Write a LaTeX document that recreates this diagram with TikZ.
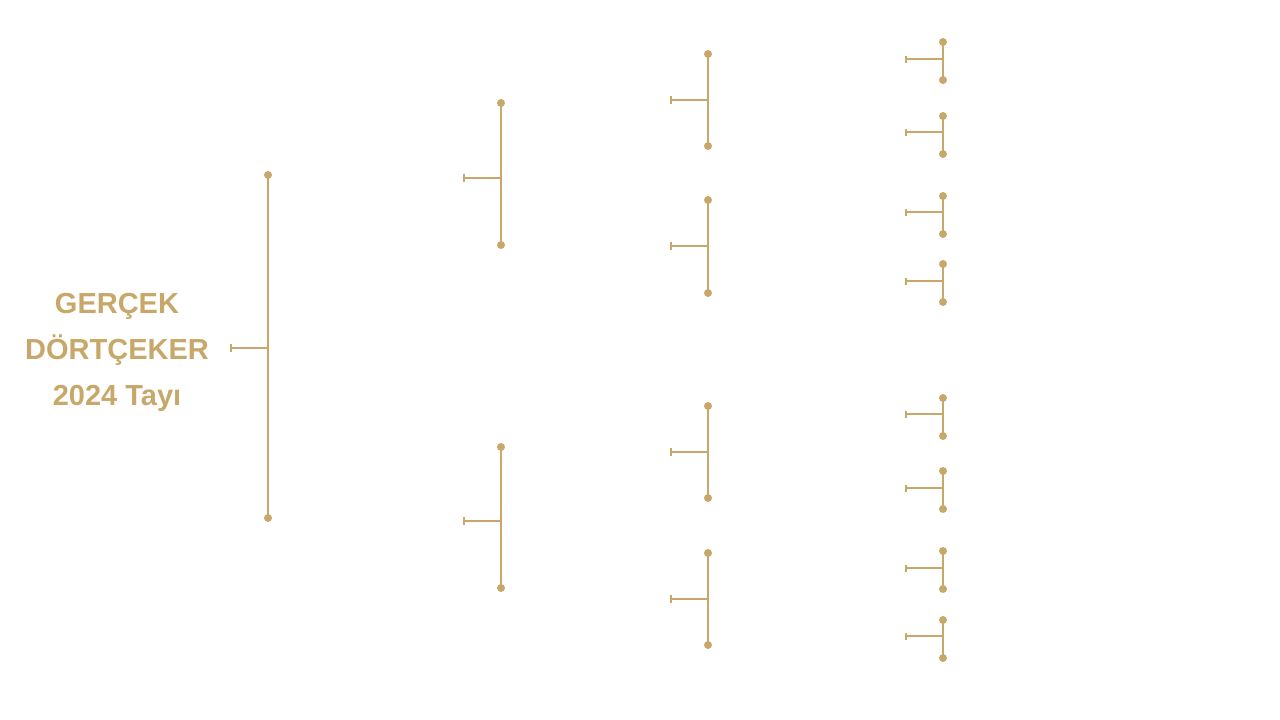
\documentclass[tikz,border=0pt]{standalone}
\usepackage{fontspec}
\setmainfont{Liberation Sans}
\usetikzlibrary{arrows.meta}
\definecolor{gold}{RGB}{200,168,106}
\tikzset{
  dot/.style={circle,fill=gold,draw=none,minimum size=8pt,inner sep=0pt},
  vline/.style={draw=gold,line width=2pt},
  stub/.style={draw=gold,line width=2pt,{Bar[width=8pt,line width=1.8pt]}-},
  stubsmall/.style={draw=gold,line width=2pt,{Bar[width=7pt,line width=1.8pt]}-},
  title/.style={text=gold,font=\bfseries\fontsize{29}{46}\selectfont,align=center}
}
\begin{document}
\begin{tikzpicture}[x=1pt,y=-1pt]
\useasboundingbox (0,0) rectangle (1280,720);
\node[title] (name) at (117,352) {GERÇEK\\DÖRTÇEKER\\2024 Tayı};
% generation brackets: name, x, ytop, ybot, ystub, xstub, style
\foreach \n/\x/\yt/\yb/\ys/\xs/\st in {
  a/268/175/518/348/230/stub,
  b1/501/103/245/178/463/stub,
  b2/501/447/588/521/463/stub,
  c1/708/54/146/100/670/stub,
  c2/708/200/293/246/670/stub,
  c3/708/406/498/452/670/stub,
  c4/708/553/645/599/670/stub,
  d1/943/42/80/59/905/stubsmall,
  d2/943/116/154/132/905/stubsmall,
  d3/943/196/234/212/905/stubsmall,
  d4/943/264/302/281/905/stubsmall,
  d5/943/398/436/414/905/stubsmall,
  d6/943/471/509/488/905/stubsmall,
  d7/943/551/589/568/905/stubsmall,
  d8/943/620/658/636/905/stubsmall}{
  \node[dot] (\n t) at (\x,\yt) {};
  \node[dot] (\n u) at (\x,\yb) {};
  \coordinate (\n j) at (\x,\ys);
  \coordinate (\n s) at (\xs,\ys);
  \draw[vline] (\n t.center) -- (\n u.center);
  \draw[\st] (\n s) -- (\n j);
}
\end{tikzpicture}
\end{document}
